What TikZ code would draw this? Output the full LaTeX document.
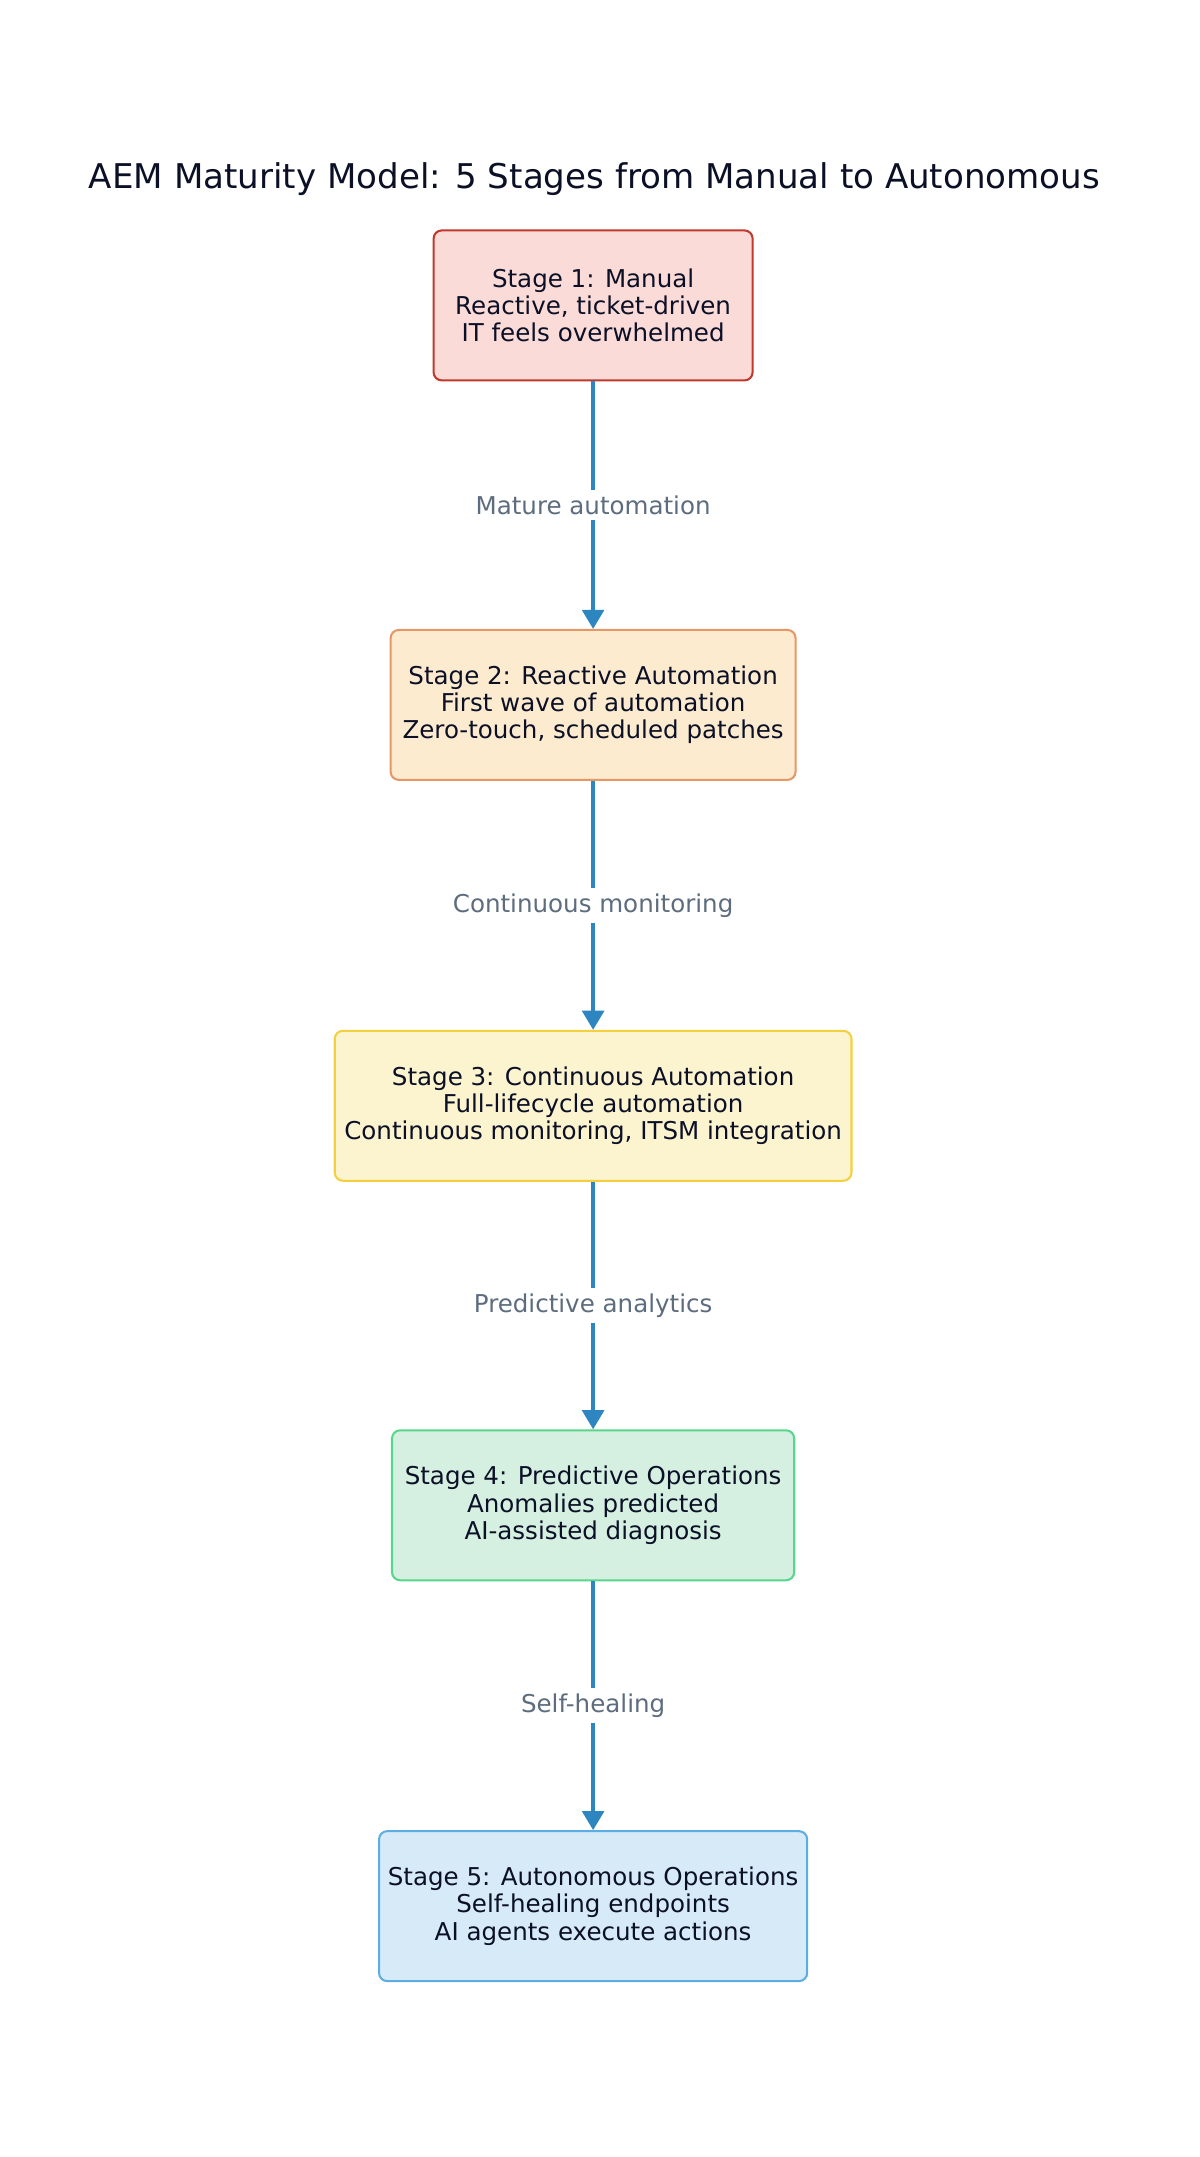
\documentclass[tikz,border=0pt]{standalone}
\usepackage{fontspec}
\setmainfont{DejaVu Sans}
\usepackage{xcolor}
\usetikzlibrary{arrows.meta}
\definecolor{redfill}{HTML}{FADBD8}\definecolor{reddraw}{HTML}{C0392B}
\definecolor{orfill}{HTML}{FDEBD0}\definecolor{ordraw}{HTML}{E59866}
\definecolor{yefill}{HTML}{FCF3CF}\definecolor{yedraw}{HTML}{F4D03F}
\definecolor{grfill}{HTML}{D5F0E0}\definecolor{grdraw}{HTML}{58D68D}
\definecolor{blfill}{HTML}{D6EAF8}\definecolor{bldraw}{HTML}{5DADE2}
\definecolor{arrowblue}{HTML}{2E86C1}
\definecolor{labelgray}{HTML}{5D6D7E}
\definecolor{inkdark}{HTML}{0B1026}
\tikzstyle{stage} = [rectangle, rounded corners=6pt, line width=1.5pt, minimum height=110pt, align=center, inner sep=2pt, font=\fontsize{18}{20}\selectfont, text=inkdark]
\tikzstyle{stagearrow} = [draw=arrowblue, line width=2.5pt, -{Triangle[length=14pt,width=16pt]}]
\tikzstyle{arrowlabel} = [fill=white, text=labelgray, font=\fontsize{18}{20}\selectfont, inner sep=4pt]
\begin{document}
\begin{tikzpicture}[x=1pt,y=-1pt]
\useasboundingbox (0,0) rectangle (880,1582);
\node[font=\fontsize{25}{28}\selectfont, text=inkdark] (title) at (436,131) {AEM Maturity Model: 5 Stages from Manual to Autonomous};
\node[stage, draw=reddraw, fill=redfill, minimum width=234pt] (s1) at (435,224) {Stage 1: Manual\\Reactive, ticket-driven\\IT feels overwhelmed};
\node[stage, draw=ordraw, fill=orfill, minimum width=297pt] (s2) at (435,517) {Stage 2: Reactive Automation\\First wave of automation\\Zero-touch, scheduled patches};
\node[stage, draw=yedraw, fill=yefill, minimum width=379pt] (s3) at (435,811) {Stage 3: Continuous Automation\\Full-lifecycle automation\\Continuous monitoring, ITSM integration};
\node[stage, draw=grdraw, fill=grfill, minimum width=295pt] (s4) at (435,1104) {Stage 4: Predictive Operations\\Anomalies predicted\\AI-assisted diagnosis};
\node[stage, draw=bldraw, fill=blfill, minimum width=314pt] (s5) at (435,1398) {Stage 5: Autonomous Operations\\Self-healing endpoints\\AI agents execute actions};
\draw[stagearrow] (s1) -- node[arrowlabel] {Mature automation} (s2);
\draw[stagearrow] (s2) -- node[arrowlabel] {Continuous monitoring} (s3);
\draw[stagearrow] (s3) -- node[arrowlabel] {Predictive analytics} (s4);
\draw[stagearrow] (s4) -- node[arrowlabel] {Self-healing} (s5);
\end{tikzpicture}
\end{document}
